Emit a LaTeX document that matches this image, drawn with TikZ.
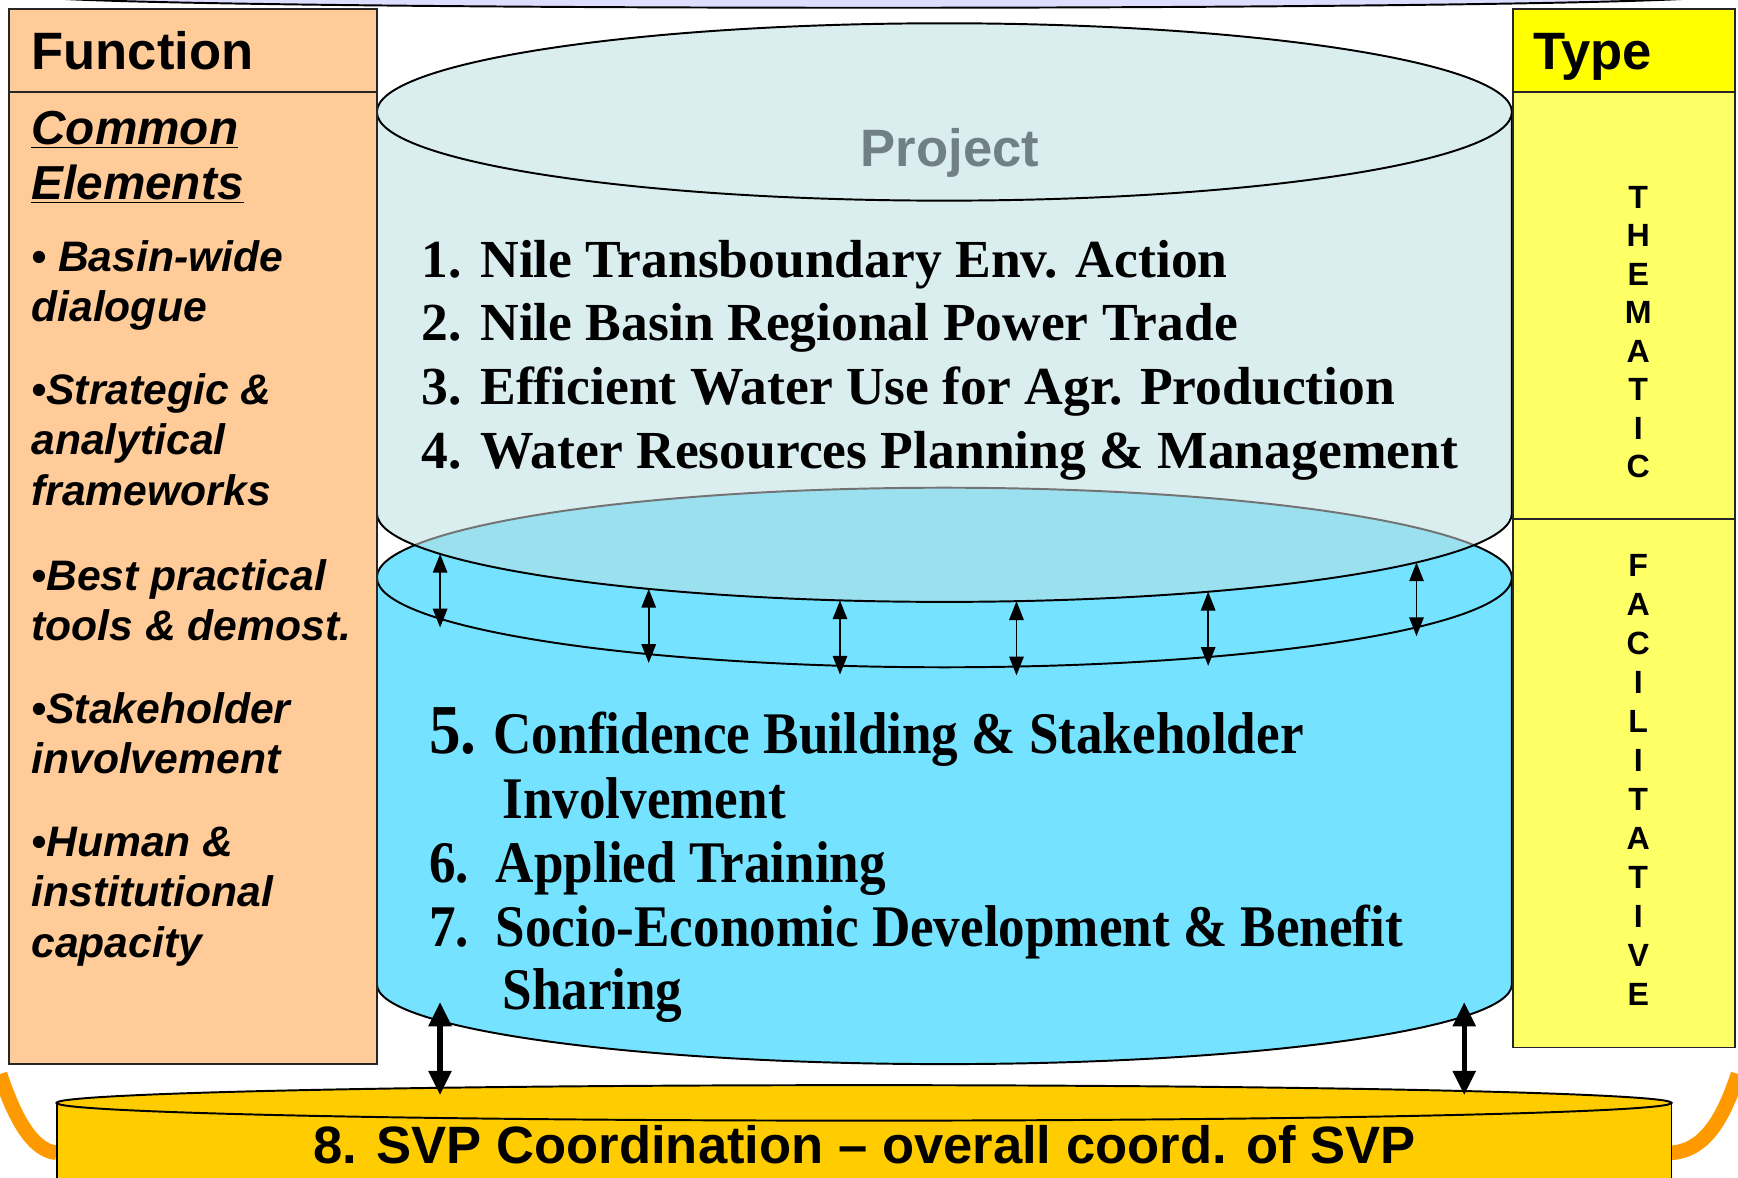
\documentclass[tikz,border=0pt]{standalone}
\usepackage{fontspec}
\setmainfont{Liberation Serif}
\newfontfamily\arialfont{Liberation Sans}
\newfontfamily\narrowtimes[FakeStretch=0.9]{Liberation Serif}
\usetikzlibrary{arrows.meta,calc}
\definecolor{peach}{RGB}{255,204,153}
\definecolor{typehead}{RGB}{255,255,0}
\definecolor{typebody}{RGB}{255,255,102}
\definecolor{paleblue}{RGB}{218,237,239}
\definecolor{skyblue}{RGB}{117,227,255}
\definecolor{mixblue}{RGB}{154,224,238}
\definecolor{svpgold}{RGB}{255,204,0}
\definecolor{looporange}{RGB}{255,153,0}
\definecolor{rimlilac}{RGB}{221,221,255}
\definecolor{projgray}{RGB}{112,128,133}
\tikzstyle{cylline}=[draw=black, line width=1pt]
\tikzstyle{panelline}=[draw=black!85, line width=0.9pt]
\tikzstyle{headText}=[font=\arialfont\bfseries\fontsize{27}{30}\selectfont, anchor=base west, inner sep=0pt]
\tikzstyle{elemText}=[font=\arialfont\bfseries\itshape\fontsize{21.9}{24}\selectfont, anchor=base west, inner sep=0pt]
\tikzstyle{commonText}=[font=\arialfont\bfseries\itshape\fontsize{24.5}{28}\selectfont, anchor=base west, inner sep=0pt]
\tikzstyle{typeLetter}=[font=\arialfont\bfseries\fontsize{16.5}{18}\selectfont, inner sep=0pt]
\tikzstyle{itemText}=[font=\bfseries\fontsize{27.5}{30}\selectfont, anchor=base west, inner sep=0pt]
\tikzstyle{facText}=[font=\narrowtimes\bfseries\fontsize{30.3}{33}\selectfont, anchor=base west, inner sep=0pt]

\begin{document}
\begin{tikzpicture}[x=0.02cm, y=-0.02cm]
\tikzstyle{link}=[{Triangle[length=0.34cm,width=0.26cm]}-{Triangle[length=0.34cm,width=0.26cm]}, line width=0.9pt, shorten >=-0.16cm]
\tikzstyle{bigLink}=[{Triangle[length=0.44cm,width=0.4cm]}-{Triangle[length=0.44cm,width=0.4cm]}, line width=2.8pt]
\tikzstyle{loopLine}=[draw=looporange, line width=7.5pt]
\useasboundingbox (0,0) rectangle (1568,1062);
\clip (0,0) rectangle (1568,1062);

% rim of the outer frame
\filldraw[fill=rimlilac, draw=black, line width=1pt] (788,-4) ellipse [x radius=760, y radius=11];

% orange loop ends
\coordinate (loopL) at (0,969);
\coordinate (loopR) at (1568,969);
\coordinate (svpL) at (51,1040);
\coordinate (svpR) at (1508,1040);
\draw[loopLine] (loopL) .. controls (12,1005) and (28,1038) .. (svpL);
\draw[loopLine] (loopR) .. controls (1556,1005) and (1540,1038) .. (svpR);

% SVP coordination
\fill[svpgold] (51,995) rectangle (1508,1080);
\draw[cylline] (51,995) -- (51,1080) (1508,995) -- (1508,1080);
\filldraw[fill=svpgold, cylline] (779.5,995) ellipse [x radius=728.5, y radius=16];
\node[headText, anchor=base] (svp) at (780,1050) {8. SVP Coordination – overall coord. of SVP};

% facilitative cylinder
\path[fill=skyblue, cylline] (340,521) -- (340,888) arc [start angle=180, end angle=0, x radius=512, y radius=72] -- (1364,521) -- cycle;
\filldraw[fill=skyblue, cylline] (852,521) ellipse [x radius=512, y radius=81];

% thematic cylinder
\fill[paleblue] (340,101) -- (340,463) arc [start angle=180, end angle=0, x radius=512, y radius=80] -- (1364,101) -- cycle;
\begin{scope}
\clip (340,101) -- (340,463) arc [start angle=180, end angle=0, x radius=512, y radius=80] -- (1364,101) -- cycle;
\filldraw[fill=mixblue, draw=black!55, line width=1pt] (852,521) ellipse [x radius=512, y radius=81];
\end{scope}
\draw[cylline] (340,101) -- (340,463) arc [start angle=180, end angle=0, x radius=512, y radius=80] -- (1364,101);
\filldraw[fill=paleblue, cylline] (852,101) ellipse [x radius=512, y radius=80];

\node[headText, anchor=base, text=projgray] (proj) at (857,150) {Project};

\foreach \yy/\nr/\tx in {250/1./{Nile Transboundary Env. Action},
                         307/2./{Nile Basin Regional Power Trade},
                         365/3./{Efficient Water Use for Agr. Production},
                         423/4./{Water Resources Planning \& Management}}{
  \node[itemText] (nr\yy) at (380,\yy) {\nr};
  \node[itemText] (it\yy) at (433,\yy) {\tx};
}

\node[facText, font=\narrowtimes\bfseries\fontsize{36}{36}\selectfont] (nr5) at (387,680) {5.};
\node[facText] (it5) at (445,680) {Confidence Building \& Stakeholder};
\node[facText] (it5b) at (453,738) {Involvement};
\node[facText] (nr6) at (387,796) {6.};
\node[facText] (it6) at (447,796) {Applied Training};
\node[facText] (nr7) at (387,854) {7.};
\node[facText] (it7) at (447,854) {Socio-Economic Development \& Benefit};
\node[facText] (it7b) at (453,911) {Sharing};

% links between the two levels
\foreach \a [count=\i] in {152.7,121.4,100.6,82.7,62.3,33.7}{
  \coordinate (up\i) at ($(852,463)+(\a:512 and 80)$);
  \coordinate (dn\i) at ($(852,521)+(\a:512 and 81)$);
  \draw[link] (up\i) -- (dn\i);
}
\coordinate (fa) at (397,904);
\coordinate (sa) at (397,988);
\coordinate (fb) at (1321,904);
\coordinate (sb) at (1321,988);
\draw[bigLink] (fa) -- (sa);
\draw[bigLink] (fb) -- (sb);

% function panel
\filldraw[fill=peach, panelline] (8,8) rectangle (340,960);
\draw[panelline] (8,83) -- (340,83);
\node[headText] (fn) at (28,63) {Function};
\node[commonText] (ce1) at (28,130) {\underline{Common}};
\node[commonText] (ce2) at (28,180) {\underline{Elements}};
\foreach \yy/\tx in {245/{• Basin-wide}, 290/dialogue, 365/{•Strategic \&}, 410/analytical,
                     456/frameworks, 533/{•Best practical}, 578/{tools \& demost.},
                     653/{•Stakeholder}, 698/involvement, 773/{•Human \&},
                     818/institutional, 864/capacity}{
  \node[elemText] (el\yy) at (28,\yy) {\tx};
}

% type panel
\filldraw[fill=typebody, panelline] (1365,83) rectangle (1565,945);
\filldraw[fill=typehead, panelline] (1365,8) rectangle (1565,83);
\draw[panelline] (1365,468) -- (1565,468);
\node[headText] (ty) at (1383,63) {Type};
\foreach \l [count=\i] in {T,H,E,M,A,T,I,C}{
  \node[typeLetter] (th\i) at (1478,{178+34.7*(\i-1)}) {\l};
}
\foreach \l [count=\i] in {F,A,C,I,L,I,T,A,T,I,V,E}{
  \node[typeLetter] (fa\i) at (1478,{510+35.2*(\i-1)}) {\l};
}
\end{tikzpicture}
\end{document}
